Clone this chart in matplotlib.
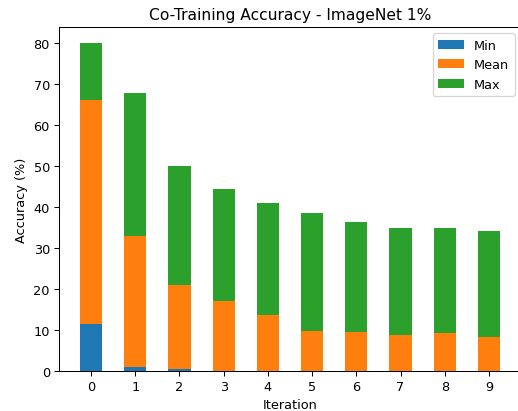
import matplotlib
matplotlib.use("Agg")
import matplotlib.pyplot as plt
import numpy as np

iterations = [0, 1, 2, 3, 4, 5, 6, 7, 8, 9]
min_acc = [11.5, 1.0, 0.4, 0.0, 0.0, 0.0, 0.0, 0.0, 0.0, 0.0]
mean_acc = [66.2, 32.9, 21.0, 17.2, 13.7, 9.8, 9.6, 8.8, 9.3, 8.4]
max_acc = [80.0, 67.8, 50.1, 44.4, 41.0, 38.5, 36.3, 35.0, 34.8, 34.1]

W, H = 518, 412
DPI = 93
fig = plt.figure(figsize=(W / DPI, H / DPI), dpi=DPI)
ax = fig.add_axes([59 / W, (H - 372) / H, (521 - 59) / W, (372 - 28) / H])

x = np.arange(len(iterations))
ax.bar(x, max_acc, width=0.5, color="#2ca02c", label="Max", zorder=1)
ax.bar(x, mean_acc, width=0.5, color="#ff7f0e", label="Mean", zorder=2)
ax.bar(x, min_acc, width=0.5, color="#1f77b4", label="Min", zorder=3)

ax.set_xticks(x)
ax.set_xticklabels([str(i) for i in iterations])
ax.set_xlabel("Iteration")
ax.set_ylabel("Accuracy (%)")
ax.set_title("Co-Training Accuracy - ImageNet 1%")

handles, labels = ax.get_legend_handles_labels()
ax.legend(handles[::-1], labels[::-1], loc="upper right")

fig.savefig("out.png", dpi=DPI)
